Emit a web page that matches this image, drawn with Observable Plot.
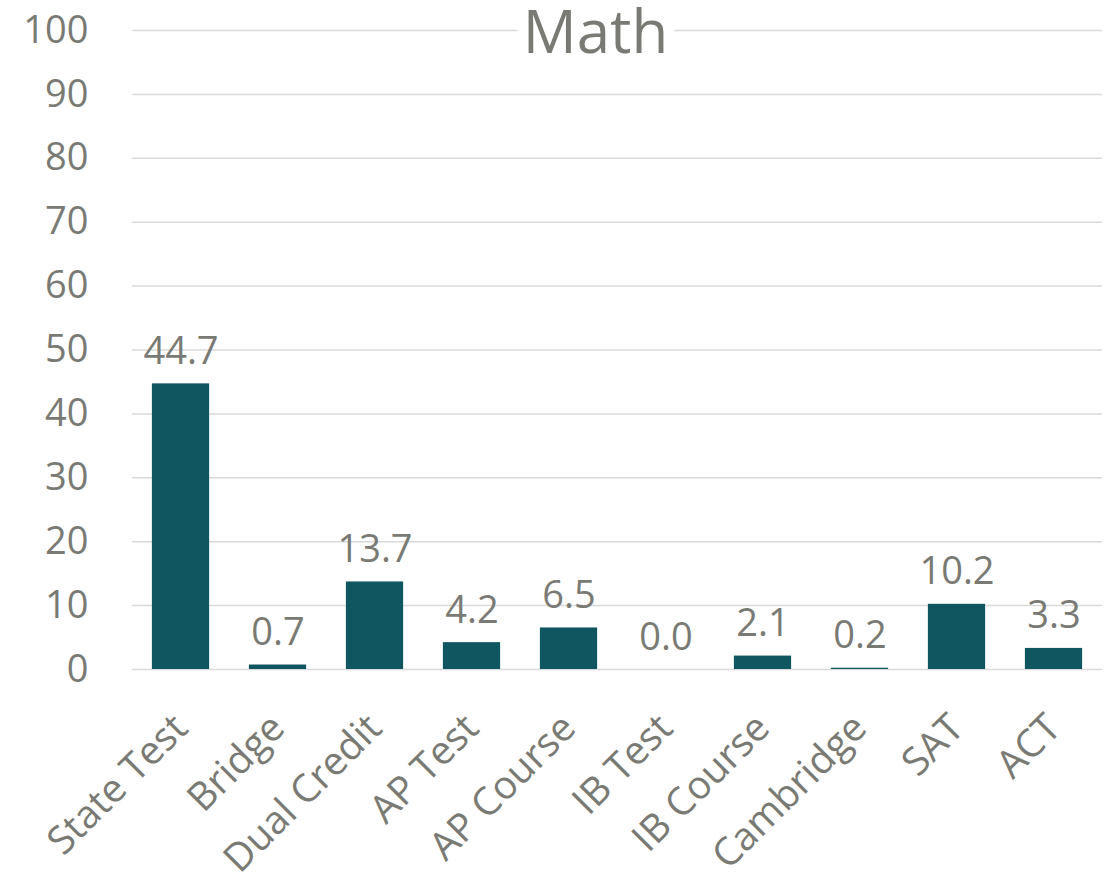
<!DOCTYPE html>
<html>
<head>
<meta charset="utf-8">
<script src="https://cdn.jsdelivr.net/npm/d3@7"></script>
<script src="https://cdn.jsdelivr.net/npm/@observablehq/plot@0.6"></script>
<style>
  html, body { margin: 0; padding: 0; background: #fff; }
  #chart svg { display: block; overflow: visible; }
</style>
</head>
<body>
<div id="chart"></div>
<script>
const title = "Math";
const categories = ["State Test", "Bridge", "Dual Credit", "AP Test", "AP Course", "IB Test", "IB Course", "Cambridge", "SAT", "ACT"];
const values = [44.7, 0.7, 13.7, 4.2, 6.5, 0.0, 2.1, 0.2, 10.2, 3.3];
const yTicks = [0, 10, 20, 30, 40, 50, 60, 70, 80, 90, 100];

const data = categories.map((c, i) => ({category: c, value: values[i]}));
const textColor = "#7a7a74";
const barColor = "#0f5660";

const chart = Plot.plot({
  width: 1119,
  height: 880,
  marginLeft: 132,
  marginRight: 17,
  marginTop: 30,
  marginBottom: 211,
  style: {fontFamily: "'Open Sans', 'Noto Sans', sans-serif", fontSize: "38px", color: textColor, background: "#fff"},
  x: {domain: categories, paddingInner: 0.41, paddingOuter: 0.205, round: false, label: null},
  y: {domain: [0, 100], label: null},
  marks: [
    Plot.gridY(yTicks, {stroke: "#d9d9d9", strokeOpacity: 1, strokeWidth: 1.5}),
    Plot.axisY(yTicks, {tickSize: 0, tickPadding: 44, fontSize: 38, fill: textColor, label: null}),
    Plot.axisX({tickSize: 0, tickRotate: -45, tickPadding: 52, fontSize: 39, fill: textColor, label: null}),
    Plot.barY(data, {x: "category", y: "value", fill: barColor}),
    Plot.text(data, {x: "category", y: "value", text: d => d.value.toFixed(1), lineAnchor: "bottom", dy: -20, fontSize: 38, fill: textColor}),
    Plot.text([title], {frameAnchor: "top", lineAnchor: "middle", dy: 3, dx: -22, text: d => d, fontSize: 60, fill: textColor, stroke: "white", strokeWidth: 22, paintOrder: "stroke"})
  ]
});
document.getElementById("chart").appendChild(chart);
</script>
</body>
</html>
